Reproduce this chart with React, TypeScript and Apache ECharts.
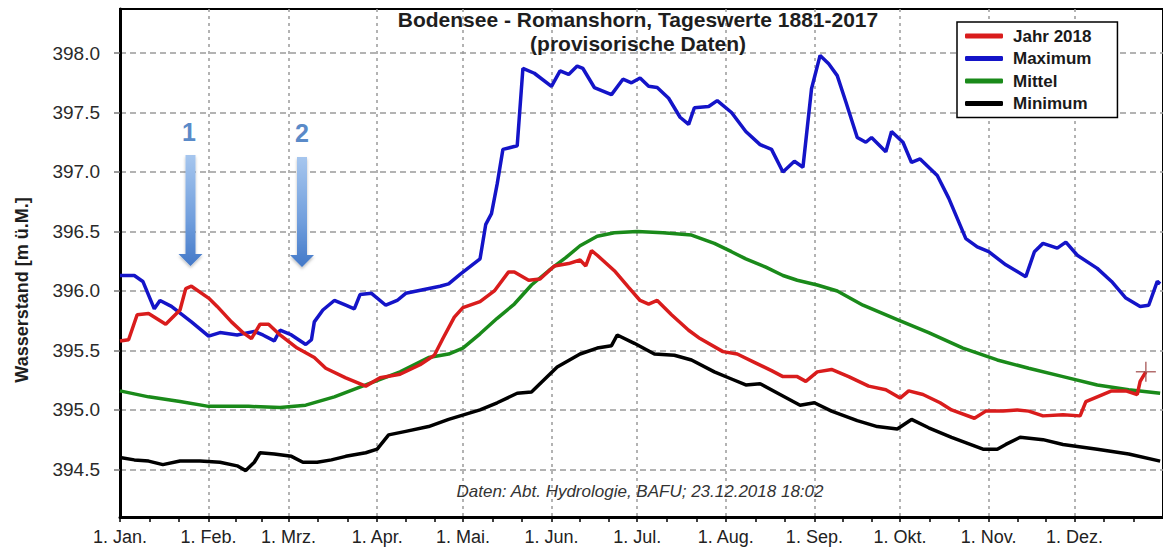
import React, { useEffect, useRef } from "react";
import * as echarts from "echarts";

const FONT = "'Liberation Sans', Arial, sans-serif";

const monthStarts = [0, 31, 59, 90, 120, 151, 181, 212, 243, 273, 304, 334];
const monthLabels = ["1. Jan.", "1. Feb.", "1. Mrz.", "1. Apr.", "1. Mai.", "1. Jun.", "1. Jul.", "1. Aug.", "1. Sep.", "1. Okt.", "1. Nov.", "1. Dez."];
const yTicks = [394.5, 395.0, 395.5, 396.0, 396.5, 397.0, 397.5, 398.0];
const seriesNames = ["Jahr 2018", "Maximum", "Mittel", "Minimum"];

const jahr2018: [number, number][] = [
  [0, 395.58], [3, 395.59], [6, 395.8], [10, 395.81], [16, 395.72], [21, 395.84], [23, 396.02], [25, 396.04],
  [31, 395.94], [34, 395.87], [39, 395.74], [43, 395.65], [46, 395.6], [49, 395.72], [52, 395.72], [56, 395.63],
  [62, 395.52], [68, 395.44], [72, 395.35], [79, 395.27], [86, 395.2], [91, 395.27], [98, 395.3], [105, 395.38],
  [110, 395.46], [113, 395.6], [117, 395.78], [120, 395.86], [126, 395.91], [131, 396.0], [136, 396.16], [138, 396.16],
  [143, 396.09], [147, 396.1], [152, 396.21], [157, 396.23], [161, 396.26], [163, 396.21], [165, 396.34], [167, 396.3],
  [173, 396.17], [178, 396.03], [182, 395.92], [185, 395.89], [188, 395.92], [193, 395.8], [199, 395.67], [203, 395.6],
  [211, 395.49], [216, 395.47], [222, 395.4], [228, 395.33], [232, 395.28], [237, 395.28], [240, 395.24], [244, 395.32],
  [249, 395.34], [255, 395.28], [262, 395.2], [268, 395.17], [273, 395.1], [276, 395.16], [281, 395.13], [287, 395.06],
  [291, 395.0], [299, 394.93], [303, 394.99], [309, 394.99], [314, 395.0], [318, 394.99], [323, 394.95], [330, 394.96],
  [336, 394.95], [338, 395.07], [342, 395.11], [347, 395.16], [352, 395.16], [356, 395.13], [357, 395.24], [359, 395.32],
];

const maximum: [number, number][] = [
  [0, 396.13], [5, 396.13], [8, 396.08], [12, 395.85], [14, 395.92], [18, 395.87], [25, 395.74], [31, 395.62],
  [35, 395.65], [41, 395.63], [47, 395.66], [50, 395.63], [54, 395.58], [56, 395.67], [60, 395.63], [65, 395.55],
  [67, 395.59], [68, 395.74], [71, 395.84], [75, 395.92], [79, 395.88], [82, 395.85], [84, 395.97], [88, 395.98],
  [93, 395.88], [97, 395.92], [100, 395.98], [106, 396.01], [112, 396.04], [115, 396.06], [119, 396.14], [126, 396.27],
  [128, 396.56], [130, 396.65], [132, 396.9], [134, 397.19], [139, 397.22], [141, 397.87], [145, 397.83], [151, 397.72],
  [154, 397.85], [157, 397.82], [160, 397.89], [162, 397.87], [166, 397.71], [172, 397.65], [176, 397.78], [179, 397.75],
  [182, 397.79], [185, 397.72], [188, 397.71], [192, 397.62], [196, 397.46], [199, 397.4], [201, 397.54], [206, 397.55],
  [209, 397.6], [214, 397.5], [219, 397.34], [224, 397.23], [228, 397.19], [232, 397.0], [236, 397.09], [239, 397.04],
  [242, 397.7], [245, 397.98], [248, 397.91], [251, 397.81], [254, 397.59], [258, 397.29], [261, 397.25], [263, 397.29],
  [268, 397.17], [270, 397.34], [274, 397.25], [277, 397.08], [280, 397.11], [286, 396.97], [290, 396.78], [296, 396.44],
  [300, 396.37], [304, 396.33], [310, 396.22], [317, 396.12], [320, 396.33], [323, 396.4], [328, 396.36], [331, 396.41],
  [335, 396.3], [342, 396.19], [347, 396.08], [352, 395.94], [357, 395.87], [360, 395.88], [363, 396.08], [364, 396.06],
];

const mittel: [number, number][] = [
  [0, 395.16], [10, 395.11], [21, 395.07], [31, 395.03], [45, 395.03], [56, 395.02], [65, 395.04], [75, 395.11],
  [86, 395.21], [98, 395.32], [108, 395.44], [115, 395.47], [120, 395.52], [126, 395.64], [132, 395.77], [138, 395.89],
  [144, 396.05], [150, 396.17], [156, 396.28], [161, 396.38], [167, 396.46], [173, 396.49], [181, 396.5], [190, 396.49],
  [200, 396.47], [208, 396.4], [214, 396.33], [219, 396.27], [226, 396.2], [232, 396.13], [237, 396.09], [244, 396.05],
  [251, 396.0], [260, 395.88], [272, 395.76], [283, 395.65], [295, 395.52], [307, 395.42], [318, 395.35], [330, 395.28],
  [342, 395.21], [353, 395.17], [364, 395.14],
];

const minimum: [number, number][] = [
  [0, 394.6], [5, 394.58], [10, 394.57], [15, 394.54], [21, 394.57], [28, 394.57], [35, 394.56], [41, 394.53],
  [44, 394.49], [47, 394.56], [49, 394.64], [54, 394.63], [60, 394.61], [64, 394.56], [69, 394.56], [74, 394.58],
  [79, 394.61], [86, 394.64], [90, 394.67], [94, 394.79], [100, 394.82], [108, 394.86], [115, 394.92], [126, 395.0],
  [132, 395.06], [139, 395.14], [144, 395.15], [153, 395.36], [161, 395.47], [167, 395.52], [172, 395.54], [174, 395.63],
  [180, 395.56], [187, 395.47], [194, 395.46], [200, 395.42], [208, 395.32], [214, 395.26], [219, 395.21], [224, 395.22],
  [231, 395.13], [238, 395.04], [243, 395.06], [249, 394.99], [258, 394.91], [265, 394.86], [272, 394.84], [277, 394.92],
  [283, 394.85], [291, 394.77], [302, 394.67], [307, 394.67], [310, 394.71], [315, 394.77], [323, 394.75], [330, 394.71],
  [342, 394.67], [353, 394.63], [364, 394.57],
];

const lastValue: [number, number][] = [[359, 395.32]];

// minor ticks: thirds of each month
const monthBounds = [...monthStarts, 365];
const minorTicks: number[] = [];
for (let i = 0; i < monthStarts.length; i++) {
  const a = monthBounds[i];
  const b = monthBounds[i + 1];
  minorTicks.push(a + (b - a) / 3, a + (2 * (b - a)) / 3);
}

function arrow(cx: number, top: number, headStart: number, tip: number) {
  const sw = 5;
  const hw = 12;
  return {
    type: "polygon",
    shape: {
      points: [
        [cx - sw, top], [cx + sw, top], [cx + sw, headStart], [cx + hw, headStart],
        [cx, tip], [cx - hw, headStart], [cx - sw, headStart],
      ],
    },
    style: {
      fill: new echarts.graphic.LinearGradient(0, 0, 0, 1, [
        { offset: 0, color: "#a6c6ee" },
        { offset: 0.6, color: "#6f9ddc" },
        { offset: 1, color: "#4479c8" },
      ]),
      shadowBlur: 3,
      shadowColor: "rgba(0,0,0,0.25)",
      shadowOffsetY: 2,
    },
    z: 10,
  };
}

export default function App() {
  const ref = useRef<HTMLDivElement>(null);
  useEffect(() => {
    if (!ref.current) return;
    const chart = echarts.init(ref.current, undefined, { renderer: "svg" });
    const lineSeries = (name: string, data: [number, number][], color: string, z: number) => ({
      name,
      type: "line",
      data,
      symbol: "none",
      lineStyle: { color, width: 3.5 },
      itemStyle: { color },
      z,
      clip: true,
    });
    chart.setOption({
      animation: false,
      backgroundColor: "#fff",
      textStyle: { fontFamily: FONT },
      grid: {
        left: 120, right: -5, top: 9, bottom: 34,
        show: true, borderColor: "#000", borderWidth: 2, backgroundColor: "transparent",
      },
      legend: {
        data: seriesNames,
        orient: "vertical",
        left: 957,
        top: 22,
        icon: "roundRect",
        itemWidth: 38,
        itemHeight: 5,
        itemGap: 4.5,
        padding: [5, 26, 5, 8],
        backgroundColor: "#fff",
        borderColor: "#000",
        borderWidth: 1.5,
        selectedMode: false,
        textStyle: { fontSize: 17, fontWeight: "bold", color: "#1a1a1a", fontFamily: FONT, lineHeight: 18, padding: [0, 0, 0, 5] },
      },
      xAxis: [
        {
          type: "value", min: 0, max: 365, position: "bottom",
          axisLine: { show: true, lineStyle: { color: "#000", width: 3 } },
          axisTick: { show: true, customValues: monthStarts, length: 5, lineStyle: { color: "#000", width: 1.5 } },
          axisLabel: {
            show: true, customValues: monthStarts, margin: 11, fontSize: 18, color: "#222", fontFamily: FONT,
            formatter: (v: number) => monthLabels[monthStarts.indexOf(Math.round(v))] ?? "",
          },
          splitLine: { show: true, lineStyle: { color: "#9a9a9a", width: 1.5, type: [3, 4] } },
        },
        {
          type: "value", min: 0, max: 365, position: "bottom",
          axisLine: { show: false },
          axisTick: { show: true, customValues: minorTicks, length: 5, lineStyle: { color: "#000", width: 1.5 } },
          axisLabel: { show: false },
          splitLine: { show: false },
        },
      ],
      yAxis: {
        type: "value", min: 394.1, max: 398.37,
        axisLine: { show: true, lineStyle: { color: "#000", width: 3 } },
        axisTick: { show: true, customValues: yTicks, length: 6, lineStyle: { color: "#777", width: 1.5 } },
        axisLabel: {
          show: true, customValues: yTicks, margin: 20, fontSize: 19, color: "#2a2a2a", fontFamily: FONT,
          formatter: (v: number) => v.toFixed(1),
        },
        splitLine: { show: true, lineStyle: { color: "#9a9a9a", width: 1.5, type: [6, 4] } },
      },
      series: [
        lineSeries("Jahr 2018", jahr2018, "#d91c1c", 5),
        lineSeries("Maximum", maximum, "#1414c8", 4),
        lineSeries("Mittel", mittel, "#1a8a1a", 3),
        lineSeries("Minimum", minimum, "#000000", 3),
        {
          name: "Letzter Wert",
          type: "scatter",
          data: lastValue,
          symbol: "path://M10,0L10,20M0,10L20,10",
          symbolSize: 20,
          itemStyle: { color: "transparent", borderColor: "#a04848", borderWidth: 1.5 },
          z: 6,
        },
      ],
      graphic: [
        {
          type: "text", x: 638, y: 19,
          style: { text: "Bodensee - Romanshorn, Tageswerte 1881-2017", font: `bold 21px ${FONT}`, fill: "#1e1e1e", textAlign: "center", textVerticalAlign: "middle" },
          z: 10,
        },
        {
          type: "text", x: 638, y: 43,
          style: { text: "(provisorische Daten)", font: `bold 21px ${FONT}`, fill: "#1e1e1e", textAlign: "center", textVerticalAlign: "middle" },
          z: 10,
        },
        {
          type: "text", x: 640, y: 491,
          style: { text: "Daten: Abt. Hydrologie, BAFU; 23.12.2018 18:02", font: `italic 17px ${FONT}`, fill: "#333", textAlign: "center", textVerticalAlign: "middle" },
          z: 10,
        },
        {
          type: "text", x: 22, y: 290, rotation: Math.PI / 2,
          style: { text: "Wasserstand [m ü.M.]", font: `bold 18px ${FONT}`, fill: "#1e1e1e", textAlign: "center", textVerticalAlign: "middle" },
          z: 10,
        },
        arrow(190.5, 155, 254, 266),
        arrow(302, 157, 255, 267),
        {
          type: "text", x: 189, y: 132,
          style: { text: "1", font: `bold 25px ${FONT}`, fill: "#5a8ac8", textAlign: "center", textVerticalAlign: "middle" },
          z: 10,
        },
        {
          type: "text", x: 302, y: 133,
          style: { text: "2", font: `bold 25px ${FONT}`, fill: "#5a8ac8", textAlign: "center", textVerticalAlign: "middle" },
          z: 10,
        },
      ],
    });
    return () => chart.dispose();
  }, []);
  return (
    <div
      ref={ref}
      style={{ position: "absolute", left: 0, top: 0, width: 1163, height: 551, background: "#fff" }}
    />
  );
}
